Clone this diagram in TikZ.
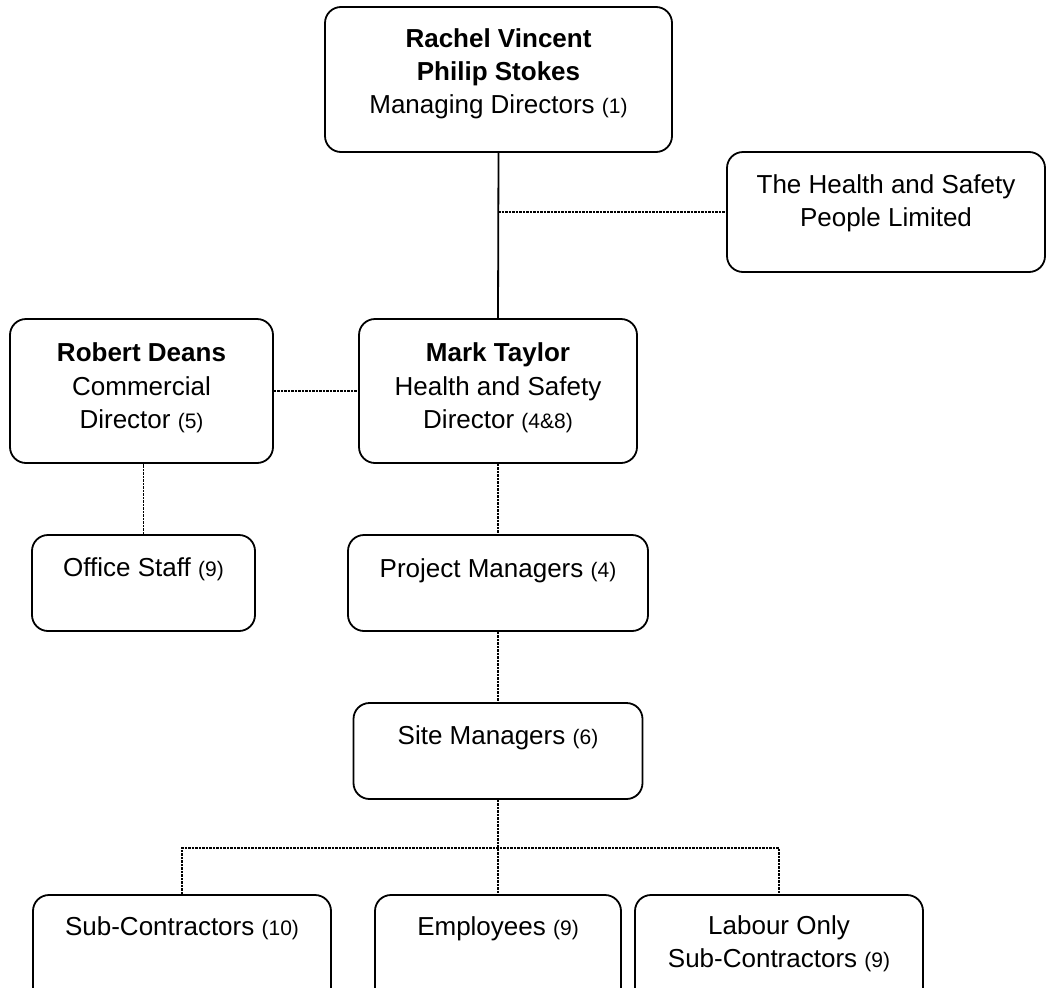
\documentclass[tikz,border=0pt]{standalone}
\usepackage{fontspec}
\setmainfont{Liberation Sans}
\begin{document}
\begin{tikzpicture}[x=1pt,y=-1pt,
  box/.style={draw=black, line width=1.8pt, rounded corners=16pt, inner sep=0pt, fill=none},
  txt/.style={anchor=base, align=center, inner sep=0pt, font=\fontsize{26}{33}\selectfont},
  solidline/.style={draw=black, line width=1.8pt},
  dashline/.style={draw=black, line width=1.8pt, dash pattern=on 2.5pt off 1pt}]
\newcommand{\sm}[1]{{\fontsize{21}{26}\selectfont #1}}
\useasboundingbox (0,0) rectangle (1047,988);
\clip (0,0) rectangle (1047,988);
% boxes
\node[box, minimum width=347pt, minimum height=145pt] (md) at (498.5,79.5) {};
\node[box, minimum width=318pt, minimum height=120pt] (hsp) at (886,212) {};
\node[box, minimum width=263pt, minimum height=144pt] (rd) at (141.5,391) {};
\node[box, minimum width=278pt, minimum height=144pt] (mt) at (498,391) {};
\node[box, minimum width=223pt, minimum height=96pt] (os) at (143.5,583) {};
\node[box, minimum width=300pt, minimum height=96pt] (pm) at (498,583) {};
\node[box, minimum width=289pt, minimum height=96pt] (smg) at (498,751) {};
\node[box, minimum width=298pt, minimum height=112pt] (sc) at (182,951) {};
\node[box, minimum width=246pt, minimum height=112pt] (emp) at (498,951) {};
\node[box, minimum width=288pt, minimum height=112pt] (lo) at (779,951) {};
% texts (baselines)
\node[txt] (tmd1) at (498.5,47) {\textbf{Rachel Vincent}};
\node[txt] (tmd2) at (498.5,80) {\textbf{Philip Stokes}};
\node[txt] (tmd3) at (498.5,113) {Managing Directors \sm{(1)}};
\node[txt] (thsp1) at (886,193) {The Health and Safety};
\node[txt] (thsp2) at (886,226) {People Limited};
\node[txt] (trd1) at (141.5,361) {\textbf{Robert Deans}};
\node[txt] (trd2) at (141.5,395) {Commercial};
\node[txt] (trd3) at (141.5,428) {Director \sm{(5)}};
\node[txt] (tmt1) at (498,361) {\textbf{Mark Taylor}};
\node[txt] (tmt2) at (498,395) {Health and Safety};
\node[txt] (tmt3) at (498,428) {Director \sm{(4\&8)}};
\node[txt] (tos) at (143.5,576) {Office Staff \sm{(9)}};
\node[txt] (tpm) at (498,577) {Project Managers \sm{(4)}};
\node[txt] (tsm) at (498,744) {Site Managers \sm{(6)}};
\node[txt] (tsc) at (182,935) {Sub-Contractors \sm{(10)}};
\node[txt] (temp) at (498,935) {Employees \sm{(9)}};
\node[txt] (tlo1) at (779,934) {Labour Only};
\node[txt] (tlo2) at (779,967) {Sub-Contractors \sm{(9)}};
% connectors
\coordinate (j1) at (498,212);
\coordinate (bus) at (498,848);
\draw[solidline] (md.south) -- (mt.north);
\draw[dashline] (j1) -- (hsp.west);
\draw[dashline] (rd.east) -- (mt.west);
\draw[dashline] (os.north) -- (os.north |- rd.south);
\draw[dashline] (mt.south) -- (pm.north);
\draw[dashline] (pm.south) -- (smg.north);
\draw[dashline] (smg.south) -- (emp.north);
\draw[dashline] (sc.north) |- (bus) -| (lo.north);
\end{tikzpicture}
\end{document}
